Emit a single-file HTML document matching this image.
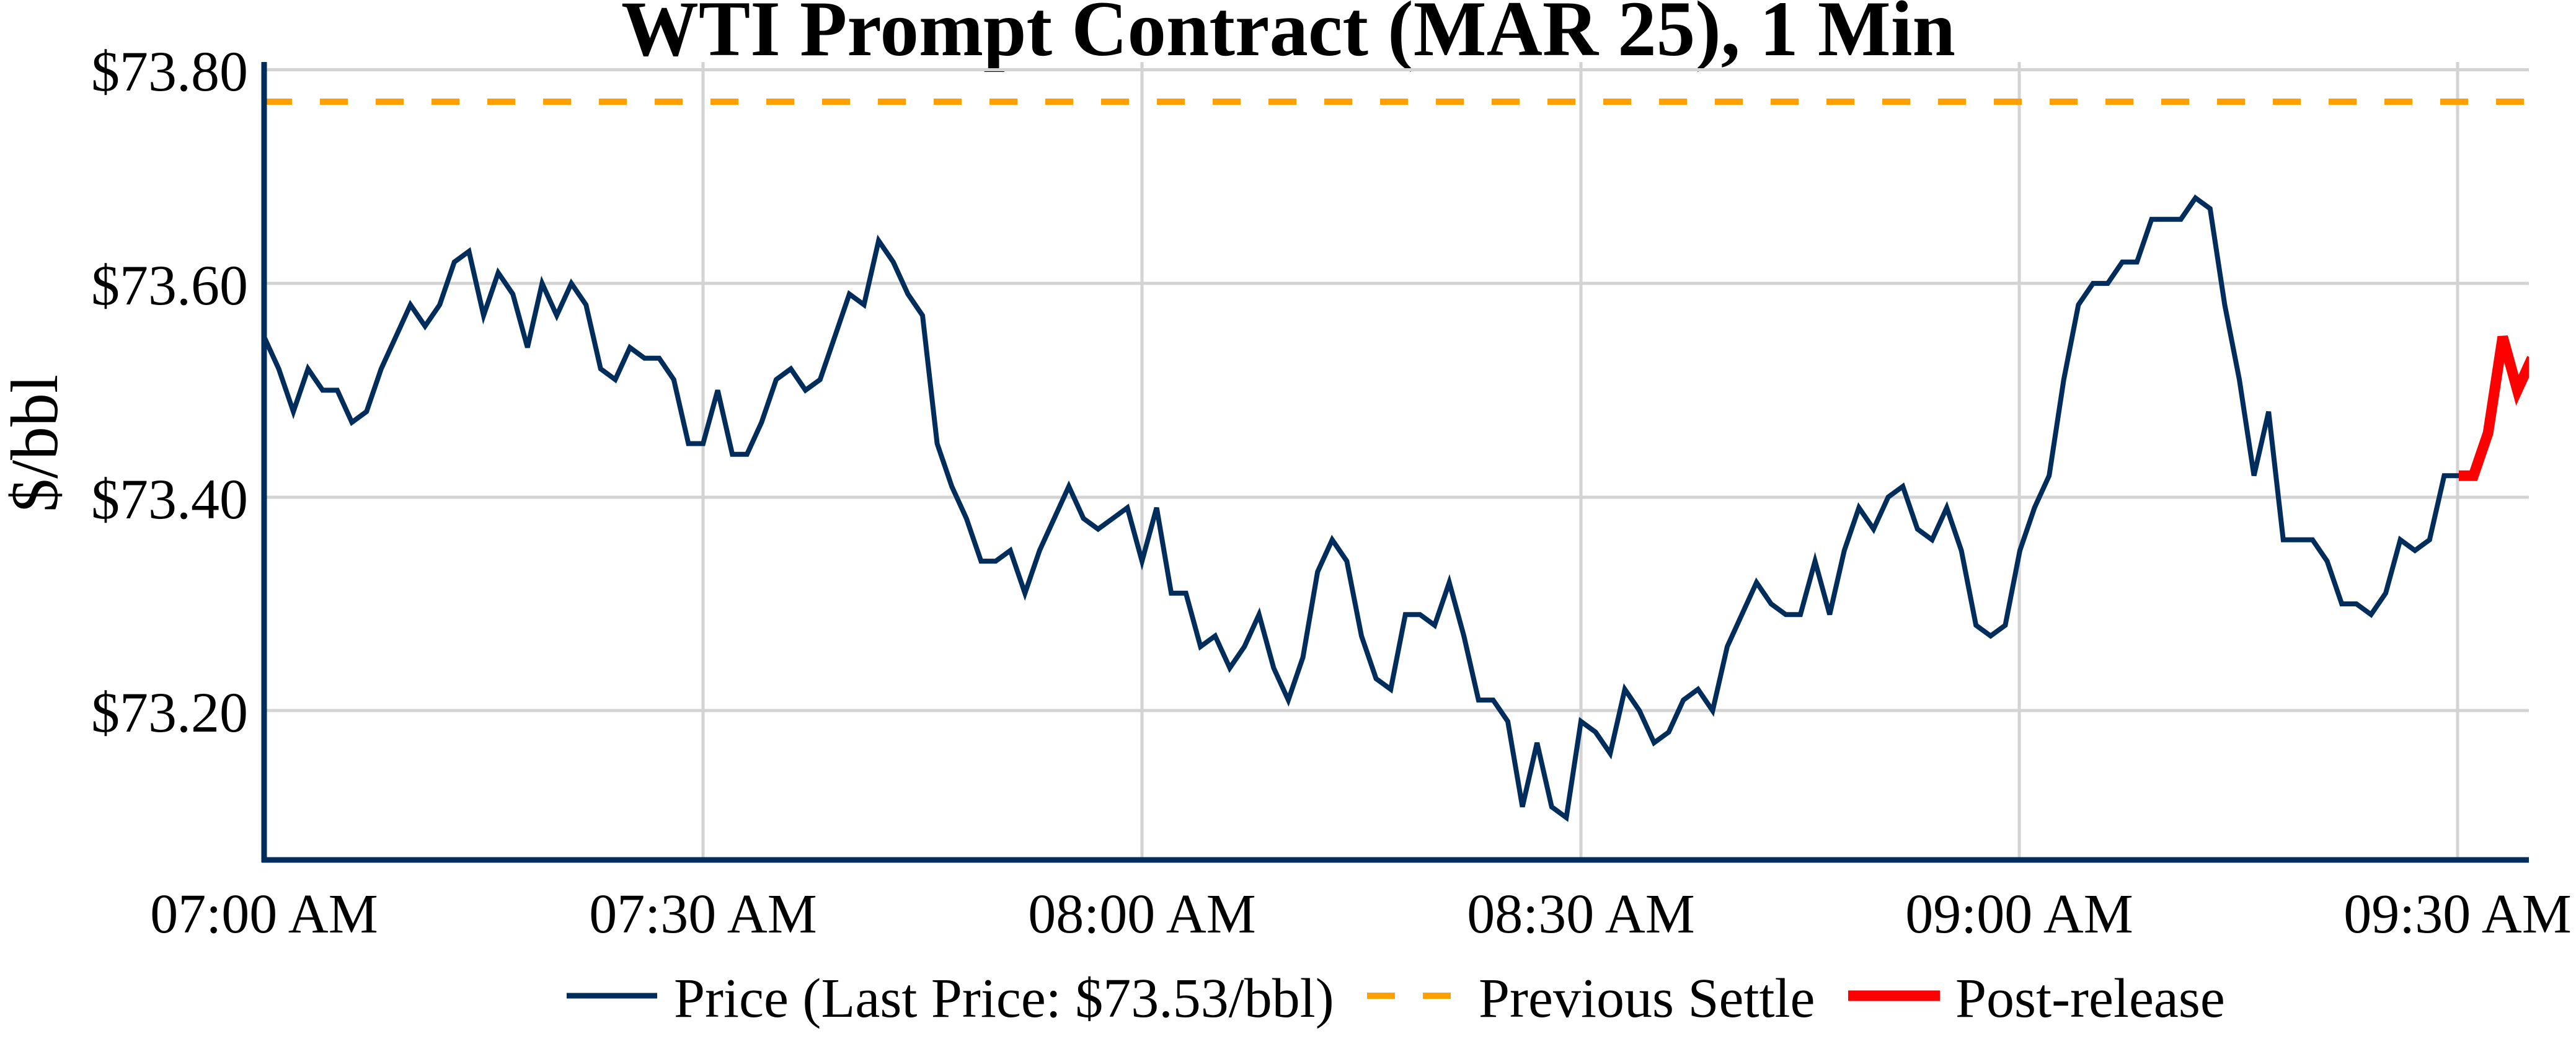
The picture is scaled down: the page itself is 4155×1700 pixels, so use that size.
<!DOCTYPE html>
<html><head><meta charset="utf-8"><style>
html,body{margin:0;padding:0;background:#fff;}
svg{display:block;font-family:"Liberation Serif","Times New Roman",serif;}
</style></head><body>
<svg id="s" width="4155" height="1700" viewBox="0 0 4155 1700" xmlns="http://www.w3.org/2000/svg">
<rect width="4155" height="1700" fill="#fff"/>
<text x="2078" y="89" font-size="127" font-weight="bold" text-anchor="middle" textLength="2152" lengthAdjust="spacingAndGlyphs">WTI Prompt Contract (MAR 25), 1 Min</text>
<g stroke="#d3d3d3" stroke-width="5">
<line x1="426" x2="4079" y1="112.5" y2="112.5"/>
<line x1="426" x2="4079" y1="457" y2="457"/>
<line x1="426" x2="4079" y1="802" y2="802"/>
<line x1="426" x2="4079" y1="1146" y2="1146"/>
<line x1="1134" x2="1134" y1="100" y2="1387"/>
<line x1="1842" x2="1842" y1="100" y2="1387"/>
<line x1="2550" x2="2550" y1="100" y2="1387"/>
<line x1="3257" x2="3257" y1="100" y2="1387"/>
<line x1="3964" x2="3964" y1="100" y2="1387"/>
</g>
<line x1="426" x2="4079" y1="164" y2="164" stroke="#FFA000" stroke-width="10" stroke-dasharray="45 45"/>
<g font-size="92" text-anchor="end">
<text x="400" y="146">$73.80</text>
<text x="400" y="491">$73.60</text>
<text x="400" y="836">$73.40</text>
<text x="400" y="1180">$73.20</text>
</g>
<text transform="translate(92,715) rotate(-90)" font-size="108" text-anchor="middle">$/bbl</text>
<g font-size="90" text-anchor="middle">
<text x="426" y="1504">07:00 AM</text>
<text x="1134" y="1504">07:30 AM</text>
<text x="1842" y="1504">08:00 AM</text>
<text x="2550" y="1504">08:30 AM</text>
<text x="3257" y="1504">09:00 AM</text>
<text x="3964" y="1504">09:30 AM</text>
</g>
<g id="series"></g>
<line x1="426" x2="426" y1="100" y2="1391" stroke="#002D5C" stroke-width="9"/>
<line x1="422" x2="4079" y1="1387" y2="1387" stroke="#002D5C" stroke-width="9"/>
<g font-size="90">
<line x1="914" x2="1060" y1="1606" y2="1606" stroke="#002D5C" stroke-width="9"/>
<text x="1087" y="1640">Price (Last Price: $73.53/bbl)</text>
<line x1="2205" x2="2345" y1="1606" y2="1606" stroke="#FFA000" stroke-width="10" stroke-dasharray="45 45"/>
<text x="2385" y="1640">Previous Settle</text>
<line x1="2981" x2="3129" y1="1606" y2="1606" stroke="#FF0000" stroke-width="17"/>
<text x="3154" y="1640">Post-release</text>
</g>
</svg>
<script>
var v=[73.55,73.52,73.48,73.52,73.50,73.50,73.47,73.48,73.52,73.55,73.58,73.56,73.58,73.62,73.63,73.57,73.61,73.59,73.54,73.60,
73.57,73.60,73.58,73.52,73.51,73.54,73.53,73.53,73.51,73.45,73.45,73.50,73.44,73.44,73.47,73.51,73.52,73.50,73.51,73.55,
73.59,73.58,73.64,73.62,73.59,73.57,73.45,73.41,73.38,73.34,73.34,73.35,73.31,73.35,73.38,73.41,73.38,73.37,73.38,73.39,
73.34,73.39,73.31,73.31,73.26,73.27,73.24,73.26,73.29,73.24,73.21,73.25,73.33,73.36,73.34,73.27,73.23,73.22,73.29,73.29,
73.28,73.32,73.27,73.21,73.21,73.19,73.11,73.17,73.11,73.10,73.19,73.18,73.16,73.22,73.20,73.17,73.18,73.21,73.22,73.20,
73.26,73.29,73.32,73.30,73.29,73.29,73.34,73.29,73.35,73.39,73.37,73.40,73.41,73.37,73.36,73.39,73.35,73.28,73.27,73.28,
73.35,73.39,73.42,73.51,73.58,73.60,73.60,73.62,73.62,73.66,73.66,73.66,73.68,73.67,73.58,73.51,73.42,73.48,73.36,73.36,
73.36,73.34,73.30,73.30,73.29,73.31,73.36,73.35,73.36,73.42,73.42];
var red=[73.42,73.42,73.46,73.55,73.50,73.53];
function X(t){return 426+23.6*t;}function Y(p){return 112.5+(73.80-p)*1723;}
var a=[];for(var i=0;i<v.length;i++)a.push(X(i).toFixed(1)+","+Y(v[i]).toFixed(1));
var b=[];for(var j=0;j<red.length;j++)b.push(X(150+j).toFixed(1)+","+Y(red[j]).toFixed(1));
var ns="http://www.w3.org/2000/svg",g=document.getElementById("series");
var cp=document.createElementNS(ns,"clipPath");cp.setAttribute("id","c");
var r=document.createElementNS(ns,"rect");r.setAttribute("x","426");r.setAttribute("y","100");r.setAttribute("width","3653");r.setAttribute("height","1287");
cp.appendChild(r);g.appendChild(cp);
function pl(pts,col,w){var p=document.createElementNS(ns,"polyline");p.setAttribute("points",pts.join(" "));p.setAttribute("fill","none");
p.setAttribute("stroke",col);p.setAttribute("stroke-width",w);p.setAttribute("stroke-linejoin","miter");p.setAttribute("clip-path","url(#c)");g.appendChild(p);}
pl(a,"#002D5C",8);pl(b,"#FF0000",17);
</script>
</body></html>
